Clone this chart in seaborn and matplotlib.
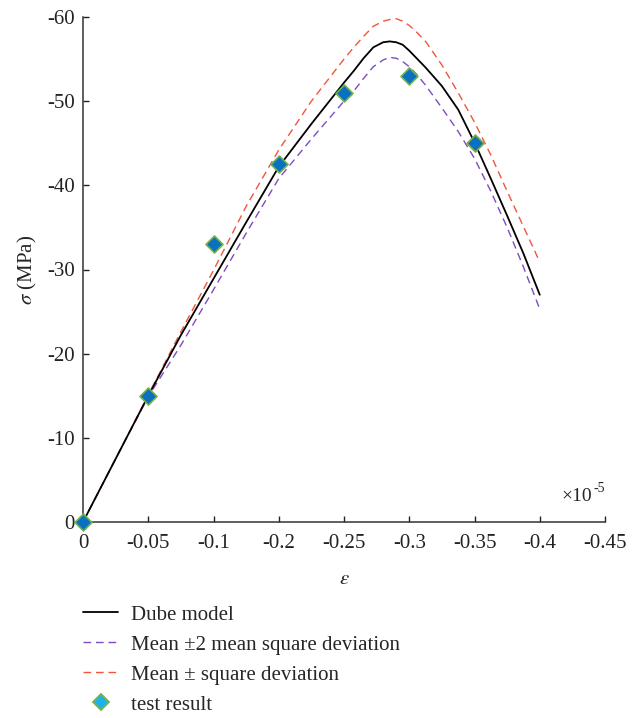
import numpy as np
import pandas as pd
import seaborn as sns
import matplotlib.pyplot as plt
from matplotlib.lines import Line2D

# x positions are tick slots on the strain axis (labels below are not evenly spaced)
tick_labels = ['0', '-0.05', '-0.1', '-0.2', '-0.25', '-0.3', '-0.35', '-0.4', '-0.45']

pos = [0, 0.5, 1, 1.5, 2, 2.5, 3, 3.5, 4, 4.15, 4.3, 4.45, 4.6, 4.7, 4.8, 4.9, 5, 5.1, 5.25,
       5.5, 5.75, 6, 6.25, 6.5, 6.75, 7]
dube = [0, -7.5, -15, -22.2, -28.9, -35.6, -42.2, -47.3, -52.2, -53.6, -55.1, -56.4, -57.0, -57.1,
        -57.0, -56.7, -56.0, -55.2, -54.0, -51.8, -49.0, -45.1, -40.8, -36.4, -31.9, -27.0]
mean_2dev = [0, -7.5, -14.9, -21.0, -27.6, -34.3, -40.8, -45.5, -50.0, -51.2, -52.7, -54.1, -54.9,
             -55.2, -55.1, -54.7, -54.1, -53.3, -51.9, -49.2, -46.4, -43.2, -39.3, -35.0, -30.3, -25.3]
mean_dev = [0, -7.5, -15.1, -22.6, -29.9, -37.5, -44.2, -50.0, -55.0, -56.4, -57.7, -58.9, -59.5,
            -59.7, -59.8, -59.5, -59.0, -58.3, -57.1, -54.3, -51.0, -47.5, -43.6, -39.3, -35.1, -30.9]

test_pos = [0, 1, 2, 3, 4, 5, 6]
test_sigma = [0, -15, -33, -42.5, -51, -53, -45]

labels = ['Dube model', 'Mean \u00b12 mean square deviation', 'Mean \u00b1 square deviation', 'test result']

sns.set_style('ticks')
plt.rcParams['font.family'] = ['Liberation Serif', 'DejaVu Serif']
plt.rcParams['mathtext.fontset'] = 'stix'
plt.rcParams['axes.unicode_minus'] = False

df = pd.DataFrame({'pos': pos, 'dube': dube, 'm2': mean_2dev, 'm1': mean_dev})
tests = pd.DataFrame({'pos': test_pos, 'sigma': test_sigma})

fig = plt.figure(figsize=(6.43, 7.18), dpi=100)
ax = fig.add_axes([83 / 643, 1 - 522 / 718, 522 / 643, 505 / 718])

red = '#f2553a'
purple = '#7e4cc0'
sns.lineplot(data=df, x='pos', y='m1', ax=ax, color=red, lw=1.0, linestyle=(0, (5.5, 3.5)))
sns.lineplot(data=df, x='pos', y='m2', ax=ax, color=purple, lw=1.0, linestyle=(0, (5.5, 3.5)))
sns.lineplot(data=df, x='pos', y='dube', ax=ax, color='black', lw=1.3)
sns.scatterplot(data=tests, x='pos', y='sigma', ax=ax, marker='D', s=75, color='#0a70c0',
                edgecolor='#79b04a', linewidth=1.2, zorder=5, clip_on=False)

ax.set_xlim(0, 8)
ax.set_ylim(0, -60)
ax.set_xticks(range(len(tick_labels)))
ax.set_xticklabels(tick_labels)
ax.set_yticks(np.arange(0, -61, -10))
ax.tick_params(direction='in', length=4, width=1, labelsize=15, colors='#222222')
ax.tick_params(axis='x', pad=9)
ax.tick_params(axis='y', pad=6)
for s in ['top', 'right']:
    ax.spines[s].set_visible(False)
for s in ['left', 'bottom']:
    ax.spines[s].set_linewidth(1.1)
    ax.spines[s].set_color('#333333')

ax.set_xlabel(r'$\varepsilon$', fontsize=15, labelpad=12)
ax.set_ylabel(r'$\sigma$ (MPa)', fontsize=15, labelpad=6)
ax.annotate('\u00d710', xy=(1.0, 0.034), xycoords='axes fraction', xytext=(-9, 0),
            textcoords='offset points', ha='right', va='bottom', fontsize=14)
ax.annotate('-5', xy=(1.0, 0.034), xycoords='axes fraction', xytext=(0, 7),
            textcoords='offset points', ha='right', va='bottom', fontsize=10)

handles = [
    Line2D([], [], color='black', lw=1.3),
    Line2D([], [], color=purple, lw=1.0, linestyle=(0, (5.5, 3.5))),
    Line2D([], [], color=red, lw=1.0, linestyle=(0, (5.5, 3.5))),
    Line2D([], [], linestyle='none', marker='D', markersize=8, markerfacecolor='#1ab4ec',
           markeredgecolor='#79b04a', markeredgewidth=1.3),
]
fig.legend(handles, labels, loc='upper left', bbox_to_anchor=(83 / 643, 1 - 605 / 718), frameon=False,
           fontsize=15, handlelength=1.7, handletextpad=0.6, labelspacing=0.5, borderpad=0,
           borderaxespad=0)

fig.savefig('out.png', dpi=100)
